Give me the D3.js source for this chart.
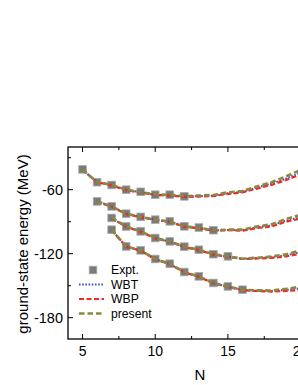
<!DOCTYPE html>
<html>
<head>
	<title>Ground-state energy</title>
	<script type="text/javascript" src="https://cdn.jsdelivr.net/npm/d3@7"></script>
	<style type="text/css">
		body{ margin:0; background:white; }
		svg text{ font-family: "Liberation Sans", Arial, sans-serif; fill:black; }
	</style>
</head>
<body>

	<svg width=298 height=385 class="energy"></svg>

	<script type="text/javascript">

		// experimental values, one array per isotopic chain
		expt1_N = [5,6,7,8,9,10,11,12]
		expt1_E = [-41.0,-53.0,-55.6,-60.0,-62.0,-64.7,-64.7,-66.3]
		expt2_N = [6,7,8,9,10,11,12,13,14]
		expt2_E = [-71.0,-75.7,-82.5,-85.5,-88.1,-89.7,-94.4,-95.5,-98.0]
		expt3_N = [7,8,9,10,11,12,13,14,15]
		expt3_E = [-86.5,-94.5,-99.1,-105.3,-108.5,-113.4,-116.3,-120.5,-122.5]
		expt4_N = [7,8,9,10,11,12,13,14,15,16]
		expt4_E = [-97.5,-113.2,-116.9,-125.0,-129.4,-137.2,-141.3,-147.5,-150.7,-153.8]

		// shell-model curves
		th1_N = [5,6,7,8,9,10,11,12,13,14,15,16,17,18,19,20]
		wbt1 = [-41.3,-52.9,-55.8,-60.2,-62.5,-64.8,-65.2,-66.5,-66.0,-65.6,-63.3,-62.0,-58.0,-54.3,-49.5,-44.0]
		wbp1 = [-41.5,-53.0,-56.0,-60.5,-62.8,-65.0,-65.5,-66.8,-66.5,-66.0,-64.0,-62.5,-59.0,-55.5,-51.0,-45.5]
		pre1 = [-41.3,-52.8,-55.6,-60.0,-62.2,-64.5,-64.8,-66.0,-65.5,-65.0,-62.5,-61.2,-57.0,-53.0,-47.5,-41.5]

		th2_N = [6,7,8,9,10,11,12,13,14,15,16,17,18,19,20]
		wbt2 = [-71.0,-75.8,-82.6,-85.6,-88.2,-90.0,-94.6,-96.0,-98.2,-97.8,-98.0,-95.3,-93.5,-89.0,-85.5]
		wbp2 = [-71.2,-76.0,-82.8,-85.8,-88.4,-90.2,-94.8,-96.2,-98.4,-98.0,-98.5,-96.0,-94.5,-90.0,-87.0]
		pre2 = [-71.0,-75.7,-82.5,-85.5,-88.1,-89.9,-94.4,-95.8,-98.0,-97.5,-97.5,-94.5,-92.5,-87.5,-83.6]

		th3_N = [7,8,9,10,11,12,13,14,15,16,17,18,19,20]
		wbt3 = [-86.6,-94.6,-99.2,-105.4,-108.7,-113.6,-116.5,-120.7,-122.8,-124.8,-124.2,-123.3,-121.5,-118.5]
		wbp3 = [-86.8,-94.8,-99.4,-105.6,-108.9,-113.8,-116.7,-120.9,-123.0,-125.0,-124.5,-124.0,-122.5,-120.0]
		pre3 = [-86.5,-94.5,-99.1,-105.3,-108.5,-113.4,-116.3,-120.5,-122.5,-124.7,-123.8,-122.6,-120.5,-117.0]

		th4_N = [7,8,9,10,11,12,13,14,15,16,17,18,19,20]
		wbt4 = [-97.6,-113.3,-117.0,-125.1,-129.6,-137.4,-141.5,-147.7,-151.0,-154.0,-154.7,-155.0,-154.0,-152.5]
		wbp4 = [-97.8,-113.5,-117.2,-125.3,-129.8,-137.6,-141.7,-147.9,-151.2,-154.3,-155.0,-155.5,-155.0,-154.0]
		pre4 = [-97.5,-113.2,-116.9,-125.0,-129.4,-137.2,-141.3,-147.5,-150.7,-153.8,-154.4,-154.5,-153.0,-151.0]

		x_major = [5,10,15,20]
		x_minor = [7.5,12.5,17.5]
		y_major = [-180,-120,-60]
		y_minor = [-150,-90,-30]

		legend_labels = ['Expt.','WBT','WBP','present']

		var svg = d3.select('.energy')

		var x = d3.scaleLinear().domain([4,22]).range([68,329.7])
		var y = d3.scaleLinear().domain([-200,-20]).range([339,147])

		var styles = {
			'WBT': {color:'#2c5ad0', dash:'1.6,1.6', width:2},
			'WBP': {color:'#f02a26', dash:'5,2.5', width:2.2},
			'present': {color:'#8a8a3c', dash:'5.5,3', width:2.6}
		}

		var zip = function(ns, es){ return ns.map(function(n,i){ return [n, es[i]] }) }

		var chains = [
			{expt:zip(expt1_N,expt1_E), WBT:zip(th1_N,wbt1), WBP:zip(th1_N,wbp1), present:zip(th1_N,pre1)},
			{expt:zip(expt2_N,expt2_E), WBT:zip(th2_N,wbt2), WBP:zip(th2_N,wbp2), present:zip(th2_N,pre2)},
			{expt:zip(expt3_N,expt3_E), WBT:zip(th3_N,wbt3), WBP:zip(th3_N,wbp3), present:zip(th3_N,pre3)},
			{expt:zip(expt4_N,expt4_E), WBT:zip(th4_N,wbt4), WBP:zip(th4_N,wbp4), present:zip(th4_N,pre4)}
		]

		var line = d3.line().x(function(d){return x(d[0])}).y(function(d){return y(d[1])})

		var g_data = svg.append('g').attr('class','g-data')
		var sq = 7.6

		chains.forEach(function(c){
			g_data.selectAll(null)
				.data(c.expt)
				.enter()
				.append('rect')
				.attr('x', function(d){return x(d[0]) - sq/2})
				.attr('y', function(d){return y(d[1]) - sq/2})
				.attr('width', sq).attr('height', sq)
				.attr('fill', '#7b7b7b')
				.attr('stroke', '#a8a8a8').attr('stroke-width', 0.8)
		})

		;['WBT','WBP','present'].forEach(function(k){
			chains.forEach(function(c){
				g_data.append('path')
					.attr('d', line(c[k]))
					.attr('fill','none')
					.attr('stroke', styles[k].color)
					.attr('stroke-width', styles[k].width)
					.attr('stroke-dasharray', styles[k].dash)
			})
		})

		// frame and axes
		var x0 = x.range()[0], x1 = x.range()[1], yb = y.range()[0], yt = y.range()[1]
		var frame = svg.append('g').attr('class','frame')
		frame.append('rect').attr('x',x0).attr('y',yt).attr('width',x1-x0).attr('height',yb-yt)
			.attr('fill','none').attr('stroke','black').attr('stroke-width',1.3)

		function tickLines(vals, len, horiz){
			vals.forEach(function(v){
				if (horiz){
					frame.append('line').attr('x1',x(v)).attr('x2',x(v)).attr('y1',yb).attr('y2',yb-len)
						.attr('stroke','black').attr('stroke-width',1)
					frame.append('line').attr('x1',x(v)).attr('x2',x(v)).attr('y1',yt).attr('y2',yt+len)
						.attr('stroke','black').attr('stroke-width',1)
				} else {
					frame.append('line').attr('x1',x0).attr('x2',x0+len).attr('y1',y(v)).attr('y2',y(v))
						.attr('stroke','black').attr('stroke-width',1)
					frame.append('line').attr('x1',x1).attr('x2',x1-len).attr('y1',y(v)).attr('y2',y(v))
						.attr('stroke','black').attr('stroke-width',1)
				}
			})
		}
		tickLines(x_major, 5, true)
		tickLines(x_minor, 3, true)
		tickLines(y_major, 5, false)
		tickLines(y_minor, 3, false)

		frame.selectAll('.xlab').data(x_major).enter().append('text')
			.attr('x', function(d){return x(d)}).attr('y', 356)
			.attr('text-anchor','middle').attr('font-size',14).text(function(d){return d})

		frame.selectAll('.ylab').data(y_major).enter().append('text')
			.attr('x', 63).attr('y', function(d){return y(d) + 5})
			.attr('text-anchor','end').attr('font-size',14.5).text(function(d){return d})

		svg.append('text').attr('x', 200).attr('y', 380).attr('text-anchor','middle')
			.attr('font-size',15).text('N')

		svg.append('text').attr('transform','translate(27.5,244) rotate(-90)')
			.attr('text-anchor','middle').attr('font-size',15).text('ground-state energy (MeV)')

		// legend
		var leg = svg.append('g').attr('class','legend')
		var leg_y = [270, 284.5, 299, 313.5]
		leg.append('rect').attr('x', 93-sq/2).attr('y', leg_y[0]-sq/2).attr('width',sq).attr('height',sq)
			.attr('fill','#7b7b7b').attr('stroke','#a8a8a8').attr('stroke-width',0.8)
		;['WBT','WBP','present'].forEach(function(k,i){
			leg.append('line').attr('x1',79).attr('x2',104).attr('y1',leg_y[i+1]).attr('y2',leg_y[i+1])
				.attr('stroke',styles[k].color).attr('stroke-width',styles[k].width)
				.attr('stroke-dasharray',styles[k].dash)
		})
		leg.selectAll('.lt').data(legend_labels).enter().append('text')
			.attr('x',111).attr('y',function(d,i){return leg_y[i] + 4.3})
			.attr('font-size',12.2).text(function(d){return d})

	</script>

</body>
</html>
